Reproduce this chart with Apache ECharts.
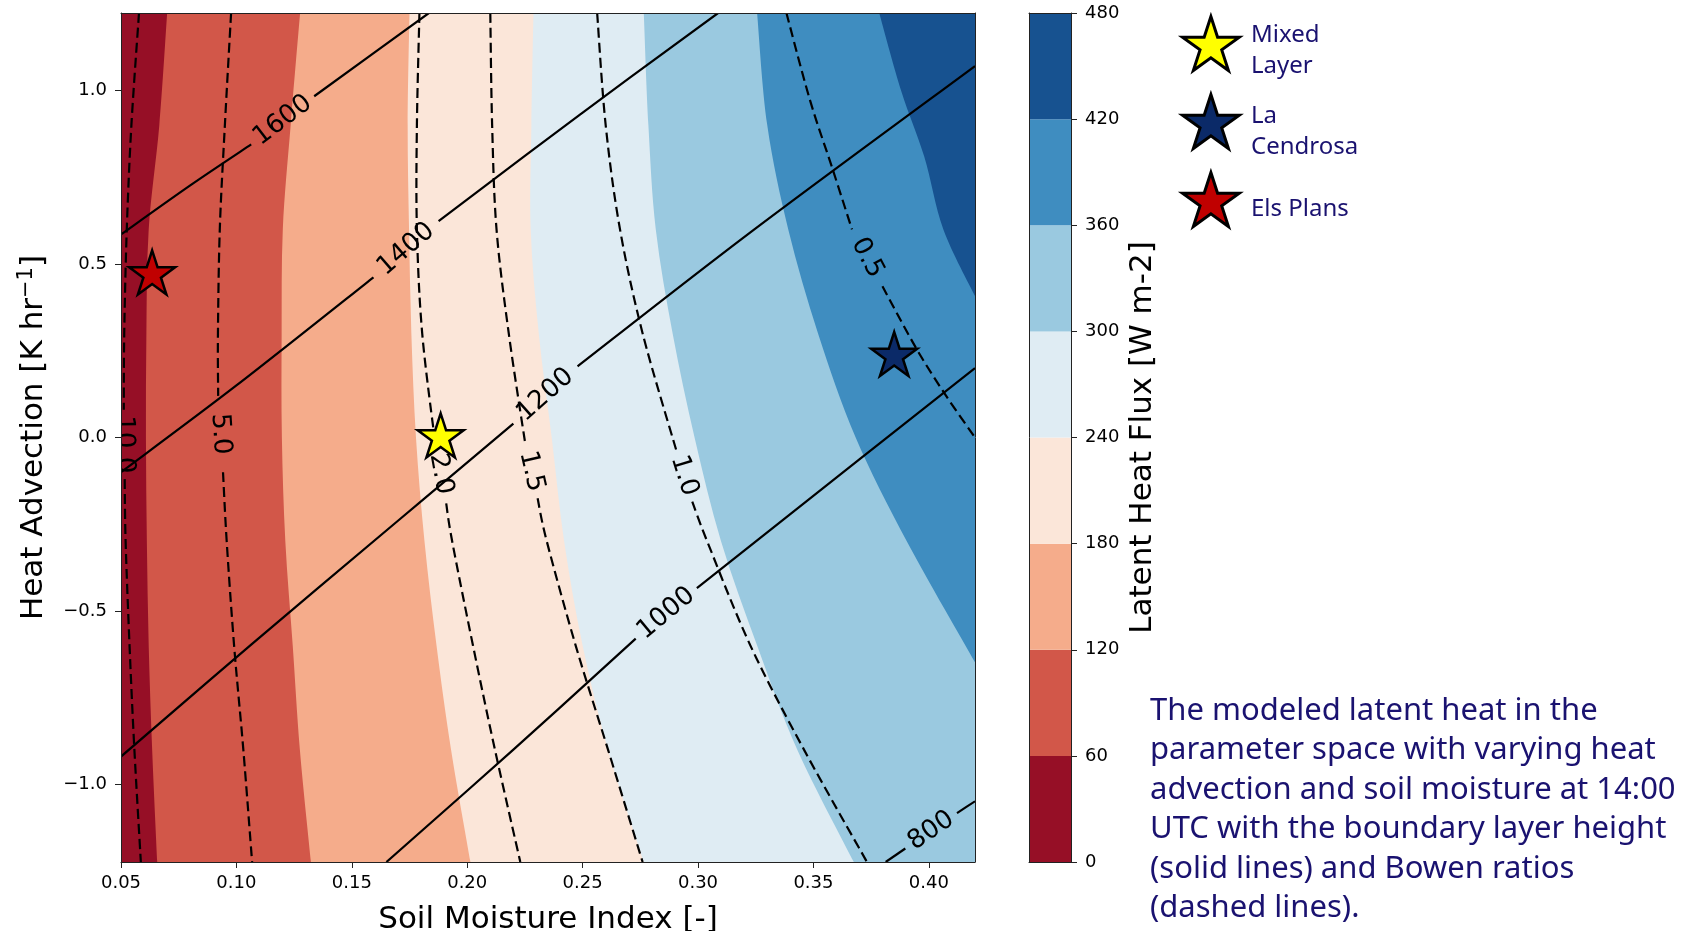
<!DOCTYPE html>
<html>
<head>
<meta charset="utf-8">
<title>Latent heat parameter space</title>
<script src="https://cdn.jsdelivr.net/npm/echarts@6/dist/echarts.min.js"></script>
<style>
  html, body { margin: 0; padding: 0; background: #fff; }
  #chart { width: 1696px; height: 931px; }
</style>
</head>
<body>
<div id="chart"></div>
<script>
// axes
const xRange = [0.05, 0.42];
const yRange = [-1.224, 1.224];
const xTicks = [0.05, 0.10, 0.15, 0.20, 0.25, 0.30, 0.35, 0.40];
const yTicks = [-1.0, -0.5, 0.0, 0.5, 1.0];

// latent heat flux bands (W m-2), RdBu
const fluxLevels = [0, 60, 120, 180, 240, 300, 360, 420, 480];
const fluxColors = ['#960f26', '#d25749', '#f5ac8b', '#fbe6d9', '#dfecf3', '#9ac9e0', '#3f8dc0', '#175290'];

// lower edge of each band, traced from the top spine down (to bottom or right spine)
const edge0 = [[0.05, 1.224], [0.05, -1.224]];
const edge60 = [[0.0700, 1.224], [0.0666, 0.9], [0.0620, 0.6], [0.0610, 0.3], [0.0608, 0.0], [0.0612, -0.3], [0.0620, -0.6], [0.0635, -0.9], [0.0657, -1.224]];
const edge120 = [[0.1276, 1.224], [0.1235, 0.9], [0.1201, 0.6], [0.1196, 0.3], [0.1197, 0.0], [0.1212, -0.3], [0.1244, -0.6], [0.1275, -0.9], [0.1323, -1.224]];
const edge180 = [[0.1750, 1.224], [0.1742, 0.9], [0.1748, 0.6], [0.1758, 0.3], [0.1778, 0.0], [0.1815, -0.3], [0.1867, -0.6], [0.1930, -0.9], [0.2014, -1.224]];
const edge240 = [[0.2287, 1.224], [0.2278, 0.9], [0.2275, 0.6], [0.2310, 0.3], [0.2366, 0.0], [0.2420, -0.3], [0.2500, -0.6], [0.2610, -0.9], [0.2765, -1.224]];
const edge300 = [[0.2765, 1.224], [0.2785, 0.9], [0.2817, 0.6], [0.2890, 0.3], [0.2985, 0.0], [0.3100, -0.3], [0.3256, -0.6], [0.3430, -0.9], [0.3675, -1.224]];
const edge360 = [[0.3256, 1.224], [0.3300, 0.9], [0.3391, 0.6], [0.3520, 0.3], [0.3683, 0.0], [0.3905, -0.3], [0.4200, -0.648]];
const edge420 = [[0.3785, 1.224], [0.3880, 1.0], [0.3980, 0.81], [0.4063, 0.6], [0.4200, 0.408]];
const bandEdges = [edge0, edge60, edge120, edge180, edge240, edge300, edge360, edge420];

// boundary layer height contours (m), split where the label sits
const blh1600 = [[[0.05, 0.5855], [0.0800, 0.727], [0.1064, 0.845]], [[0.1337, 0.984], [0.1834, 1.224]]];
const blh1400 = [[[0.05, -0.100], [0.1000, 0.150], [0.1594, 0.462]], [[0.1876, 0.624], [0.2490, 0.932], [0.3087, 1.224]]];
const blh1200 = [[[0.05, -0.920], [0.1059, -0.600], [0.1700, -0.240], [0.2200, 0.040]], [[0.2478, 0.205], [0.3244, 0.600], [0.4200, 1.071]]];
const blh1000 = [[[0.1650, -1.224], [0.2200, -0.900], [0.2730, -0.580]], [[0.2995, -0.434], [0.3699, -0.063], [0.4200, 0.200]]];
const blh800 = [[[0.3813, -1.224], [0.3898, -1.185]], [[0.4122, -1.083], [0.4200, -1.049]]];
const blhLines = [blh1600, blh1400, blh1200, blh1000, blh800];
const blhLabels = ['1600', '1400', '1200', '1000', '800'];

// Bowen ratio contours (dashed)
const bowen10 = [[[0.0578, 1.224], [0.0545, 0.9], [0.0525, 0.6], [0.0514, 0.3], [0.0512, 0.08]], [[0.0516, -0.12], [0.0520, -0.3], [0.0537, -0.6], [0.0558, -0.9], [0.0586, -1.224]]];
const bowen5 = [[[0.0977, 1.224], [0.0950, 0.9], [0.0928, 0.6], [0.0920, 0.3], [0.0921, 0.12]], [[0.0942, -0.10], [0.0958, -0.3], [0.0990, -0.6], [0.1030, -0.9], [0.1068, -1.224]]];
const bowen2 = [[[0.1793, 1.224], [0.1782, 0.9], [0.1782, 0.6], [0.1805, 0.3], [0.1862, -0.02]], [[0.1909, -0.19], [0.1935, -0.3], [0.2025, -0.6], [0.2120, -0.9], [0.2230, -1.224]]];
const bowen15 = [[[0.2100, 1.224], [0.2108, 0.9], [0.2127, 0.6], [0.2180, 0.3], [0.2252, -0.02]], [[0.2305, -0.175], [0.2345, -0.3], [0.2470, -0.6], [0.2610, -0.9], [0.2760, -1.224]]];
const bowen1 = [[[0.2563, 1.224], [0.2600, 0.9], [0.2662, 0.6], [0.2760, 0.3], [0.2905, -0.035]], [[0.2975, -0.185], [0.3040, -0.3], [0.3227, -0.6], [0.3459, -0.9], [0.3732, -1.224]]];
const bowen05 = [[[0.3383, 1.224], [0.3484, 0.975], [0.3580, 0.78], [0.3667, 0.6]], [[0.3799, 0.436], [0.3948, 0.254], [0.4075, 0.12], [0.4200, 0.0]]];
const bowenLines = [bowen10, bowen5, bowen2, bowen15, bowen1, bowen05];
const bowenLabels = ['10.0', '5.0', '2.0', '1.5', '1.0', '0.5'];

// sites
const siteNames = ['Mixed Layer', 'La Cendrosa', 'Els Plans'];
const siteLabels = ['Mixed\nLayer', 'La\nCendrosa', 'Els Plans'];
const siteX = [0.1885, 0.3850, 0.0635];
const siteY = [0.000, 0.235, 0.470];
const siteColors = ['#ffff00', '#0b2a68', '#c00000'];

const captionLines = [
  'The modeled latent heat in the',
  'parameter space with varying heat',
  'advection and soil moisture at 14:00',
  'UTC with the boundary layer height',
  '(solid lines) and Bowen ratios',
  '(dashed lines).'
];

const starPath = 'path://M0,-100L22.45,-30.9L95.1,-30.9L36.33,11.8L58.8,80.9L0,38.2L-58.8,80.9L-36.33,11.8L-95.1,-30.9L-22.45,-30.9Z';
const textBlue = '#1a1270';
const mplFont = 'DejaVu Sans';

const chart = echarts.init(document.getElementById('chart'));

// catmull-rom through pixel points -> svg path
function smoothPath(p) {
  let d = 'M' + p[0][0] + ' ' + p[0][1];
  for (let i = 0; i < p.length - 1; i++) {
    const p0 = p[i - 1] || p[i], p1 = p[i], p2 = p[i + 1], p3 = p[i + 2] || p2;
    const c1x = p1[0] + (p2[0] - p0[0]) / 6, c1y = p1[1] + (p2[1] - p0[1]) / 6;
    const c2x = p2[0] - (p3[0] - p1[0]) / 6, c2y = p2[1] - (p3[1] - p1[1]) / 6;
    d += ' C' + c1x + ' ' + c1y + ' ' + c2x + ' ' + c2y + ' ' + p2[0] + ' ' + p2[1];
  }
  return d;
}

function contourSeries(lines, labels, dashed) {
  return {
    type: 'custom',
    xAxisIndex: 0,
    yAxisIndex: 0,
    clip: true,
    silent: true,
    z: 3,
    data: lines.map((l, i) => [xRange[0], 0]),
    renderItem: function (params, api) {
      const segs = lines[params.dataIndex];
      const children = segs.map(seg => ({
        type: 'path',
        shape: { pathData: smoothPath(seg.map(p => api.coord(p))) },
        style: { fill: 'none', stroke: '#000', lineWidth: 2.2, lineDash: dashed ? [10, 5] : null }
      }));
      const a = api.coord(segs[0][segs[0].length - 1]);
      const b = api.coord(segs[1][0]);
      let ang = Math.atan2(b[1] - a[1], b[0] - a[0]);
      if (ang > Math.PI / 2) ang -= Math.PI;
      if (ang < -Math.PI / 2) ang += Math.PI;
      children.push({
        type: 'text',
        x: (a[0] + b[0]) / 2,
        y: (a[1] + b[1]) / 2,
        rotation: -ang,
        style: {
          text: labels[params.dataIndex], fill: '#000',
          fontSize: 26, fontFamily: mplFont,
          align: 'center', verticalAlign: 'middle',
          textAlign: 'center', textVerticalAlign: 'middle'
        }
      });
      return { type: 'group', children: children };
    }
  };
}

const frameAxis = { show: true, axisLine: { show: true, onZero: false, lineStyle: { color: '#222', width: 1 } }, axisTick: { show: false }, axisLabel: { show: false }, splitLine: { show: false }, z: 10 };

const options = {
  animation: false,
  backgroundColor: '#fff',
  title: [
    {
      text: captionLines.join('\n'),
      left: 1150,
      top: 691,
      padding: 0,
      textStyle: { fontFamily: 'Noto Sans', fontSize: 31, fontWeight: 'normal', color: textBlue, lineHeight: 39.5 }
    }
  ].concat(siteLabels.map((label, i) => ({
    text: label,
    left: 1251,
    top: [20, 101, 194][i],
    padding: 0,
    textStyle: { fontFamily: 'Noto Sans', fontSize: 24, fontWeight: 'normal', color: textBlue, lineHeight: 31 }
  }))),
  legend: siteNames.map((name, i) => ({
    data: [name],
    left: 1181,
    top: [15, 93, 171][i],
    padding: 0,
    itemWidth: 57,
    itemHeight: 54,
    icon: starPath,
    selectedMode: false,
    formatter: () => '',
    itemStyle: { borderWidth: 3, borderColor: '#000' }
  })),
  grid: [
    { left: 121, top: 13, width: 854, height: 849, outerBoundsMode: 'none' },
    { left: 1029, top: 13, width: 42, height: 849, outerBoundsMode: 'none' }
  ],
  xAxis: [
    {
      type: 'value', gridIndex: 0, min: xRange[0], max: xRange[1], interval: 0.05,
      name: 'Soil Moisture Index [-]', nameLocation: 'middle', nameGap: 42,
      nameTextStyle: { fontFamily: mplFont, fontSize: 31, color: '#000' },
      axisLine: { onZero: false, lineStyle: { color: '#222', width: 1 } },
      axisTick: { length: 6, lineStyle: { color: '#222' }, customValues: xTicks },
      axisLabel: {
        customValues: xTicks, margin: 12,
        fontFamily: mplFont, fontSize: 18, color: '#000',
        formatter: v => v.toFixed(2)
      },
      splitLine: { show: false },
      z: 10
    },
    Object.assign({ type: 'value', gridIndex: 0, position: 'top', min: xRange[0], max: xRange[1] }, frameAxis),
    Object.assign({ type: 'value', gridIndex: 1, position: 'bottom', min: 0, max: 1 }, frameAxis),
    Object.assign({ type: 'value', gridIndex: 1, position: 'top', min: 0, max: 1 }, frameAxis)
  ],
  yAxis: [
    {
      type: 'value', gridIndex: 0, min: yRange[0], max: yRange[1],
      name: 'Heat Advection [K hr{sup|\u22121}]', nameLocation: 'middle', nameGap: 60, nameRotate: 90,
      nameTextStyle: {
        fontFamily: mplFont, fontSize: 31, color: '#000', lineHeight: 36,
        rich: { sup: { fontFamily: mplFont, fontSize: 21, color: '#000', lineHeight: 20, verticalAlign: 'top' } }
      },
      axisLine: { onZero: false, lineStyle: { color: '#222', width: 1 } },
      axisTick: { length: 6, lineStyle: { color: '#222' }, customValues: yTicks },
      axisLabel: {
        customValues: yTicks, margin: 14,
        fontFamily: mplFont, fontSize: 18, color: '#000',
        formatter: v => (v < 0 ? '\u2212' : '') + Math.abs(v).toFixed(1)
      },
      splitLine: { show: false },
      z: 10
    },
    Object.assign({ type: 'value', gridIndex: 0, position: 'right', min: yRange[0], max: yRange[1] }, frameAxis),
    {
      type: 'value', gridIndex: 1, position: 'right', min: 0, max: 480, interval: 60,
      name: 'Latent Heat Flux [W m-2]', nameLocation: 'middle', nameGap: 56, nameRotate: 90,
      nameTextStyle: { fontFamily: mplFont, fontSize: 31, color: '#000' },
      axisLine: { show: true, onZero: false, lineStyle: { color: '#222', width: 1 } },
      axisTick: { show: true, length: 6, lineStyle: { color: '#222' } },
      axisLabel: { margin: 14, fontFamily: mplFont, fontSize: 18, color: '#000' },
      splitLine: { show: false },
      z: 10
    },
    Object.assign({ type: 'value', gridIndex: 1, position: 'left', min: 0, max: 480 }, frameAxis)
  ],
  series: [
    {
      type: 'custom',
      xAxisIndex: 0,
      yAxisIndex: 0,
      clip: true,
      silent: true,
      z: 1,
      data: bandEdges.map(e => [xRange[0], 0]),
      renderItem: function (params, api) {
        const i = params.dataIndex;
        const edge = bandEdges[i];
        const pts = edge.map(p => api.coord(p));
        const end = api.coord([xRange[1], edge[edge.length - 1][1]]);
        const start = api.coord([xRange[1], edge[0][1]]);
        return {
          type: 'path',
          shape: { pathData: smoothPath(pts) + ' L' + end[0] + ' ' + end[1] + ' L' + start[0] + ' ' + start[1] + ' Z' },
          style: { fill: fluxColors[i], stroke: null }
        };
      }
    },
    contourSeries(blhLines, blhLabels, false),
    contourSeries(bowenLines, bowenLabels, true),
    {
      type: 'custom',
      xAxisIndex: 2,
      yAxisIndex: 2,
      silent: true,
      z: 1,
      data: fluxColors.map((c, i) => [0, fluxLevels[i]]),
      renderItem: function (params, api) {
        const i = params.dataIndex;
        const p0 = api.coord([0, fluxLevels[i]]);
        const p1 = api.coord([1, fluxLevels[i + 1]]);
        return {
          type: 'rect',
          shape: { x: p0[0], y: p1[1], width: p1[0] - p0[0], height: p0[1] - p1[1] },
          style: { fill: fluxColors[i] }
        };
      }
    }
  ].concat(siteNames.map((name, i) => ({
    type: 'scatter',
    name: name,
    xAxisIndex: 0,
    yAxisIndex: 0,
    data: [[siteX[i], siteY[i]]],
    symbol: starPath,
    symbolSize: [46, 44],
    symbolOffset: [0, -2],
    itemStyle: { color: siteColors[i], borderColor: '#000', borderWidth: 2.5, opacity: 1 },
    z: 6,
    silent: true
  })))
};

chart.setOption(options);

window.addEventListener('resize', () => {
  chart.resize();
});
</script>
</body>
</html>
